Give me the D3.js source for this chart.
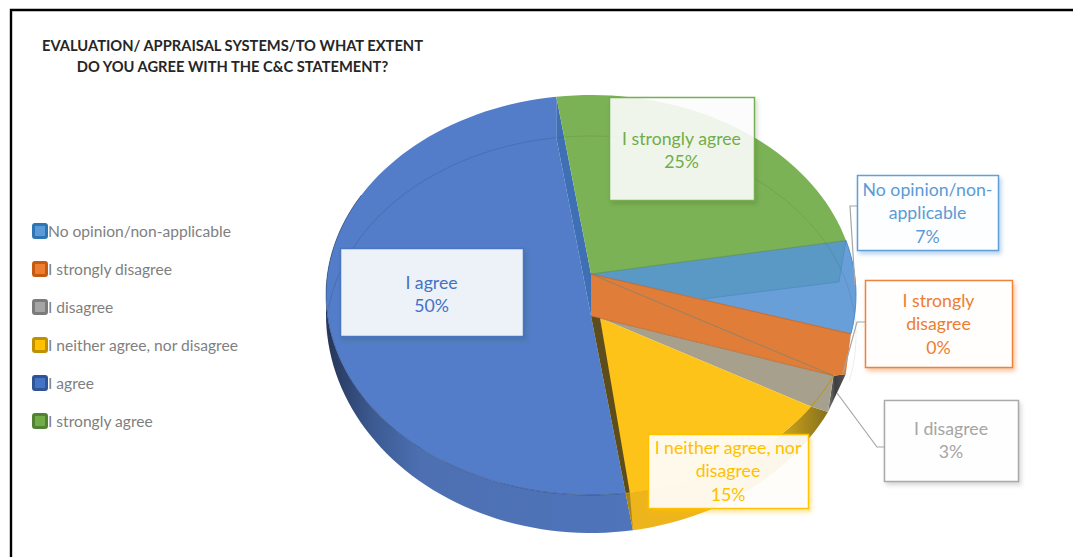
<!DOCTYPE html>
<html><head><meta charset="utf-8">
<script src="https://cdn.jsdelivr.net/npm/d3@7/dist/d3.min.js"></script>
<style>html,body{margin:0;padding:0;background:#fff}svg{display:block}text{font-family:Lato,"Open Sans",sans-serif}</style>
</head><body><svg id="c" width="1073" height="557"></svg>
<script>
// ---- data ----
const titleLines = ["EVALUATION/ APPRAISAL SYSTEMS/TO WHAT EXTENT", "DO YOU AGREE WITH THE C&C STATEMENT?"];
const categories = ["No opinion/non-applicable","I strongly disagree","I disagree","I neither agree, nor disagree","I agree","I strongly agree"];
const percentLabels = [7,0,3,15,50,25];            // the printed labels
const drawnShares = [7.5,3.5,2.8,13.5,50,22.7];    // the angular share each slice has in the drawing
const labelLines = [["No opinion/non-","applicable"],["I strongly","disagree"],["I disagree"],["I neither agree, nor","disagree"],["I agree"],["I strongly agree"]];

// ---- styles and layout ----
const faceColors = ["#689fd8","#e07d38","#a7a08c","#fec318","#537dc8","#7cb256"];
const textColors = ["#5b9bd5","#ed7d31","#a5a5a5","#ffc000","#4472c4","#70ad47"];
const swatchOuter = ["#2e75b6","#c55a11","#7b7b7b","#bf9000","#2f5597","#548235"];
const swatchInner = ["#5b9bd5","#ed7d31","#a5a5a5","#ffc000","#4472c4","#70ad47"];
const boxLayout = [
 {x:857,y:175,w:141,h:75,lines:[190,213,237],fill:.96},
 {x:865,y:280,w:147,h:87,lines:[301,324,348],fill:.96},
 {x:884,y:400,w:134,h:81,lines:[429,452],fill:.96},
 {x:648,y:434,w:160,h:74,lines:[448,471,495],fill:.89},
 {x:340,y:248,w:183,h:88,lines:[283,306],fill:.89},
 {x:609,y:97,w:145,h:103,lines:[139,162],fill:.88}];
const legendY = d3.scalePoint().domain(categories).range([231,421]);

const svg = d3.select("#c");
const defs = svg.append("defs");
function grad(id,stops,x1,x2){
  const g = defs.append("linearGradient").attr("id",id).attr("gradientUnits","userSpaceOnUse")
    .attr("x1",x1).attr("x2",x2).attr("y1",0).attr("y2",0);
  stops.forEach(s=>g.append("stop").attr("offset",s[0]).attr("stop-color",s[1]));
}
grad("wallBlue",[[0,"#27385c"],[.14,"#3c5a92"],[.3,"#4d70b2"],[1,"#4f74ba"]],330,634);
grad("wallGold",[[0,"#eeb41b"],[.5,"#edb51b"],[.8,"#c69c1a"],[1,"#84701c"]],634,828);
grad("wallGray",[[0,"#7a7a7a"],[.5,"#3f3f3f"],[1,"#4e4e4e"]],828,843);
textColors.forEach((c,i)=>{
  const f = defs.append("filter").attr("id","sh"+i).attr("x","-10%").attr("y","-10%").attr("width","125%").attr("height","125%");
  f.append("feDropShadow").attr("dx",2).attr("dy",3).attr("stdDeviation",2.2).attr("flood-color",i==4||i==5?"#2d4a22":c).attr("flood-opacity",i==4||i==5?.22:.45);
});

// frame
svg.append("path").attr("d",d3.line()([[1073,10],[11,10],[11,557]])).attr("fill","none").attr("stroke","#000").attr("stroke-width",2.4);

// ---- projection of the tilted pie ----
const xS = d3.scaleLinear().domain([-1,1]).range([326,856]);
const yTop = d3.scaleLinear().domain([-1,1]).range([95,495]);
const yWall = d3.scaleLinear().domain([-1,1]).range([95,533]);
const yRing = d3.scaleLinear().domain([-1,1]).range([136,536]);
const rad = d=>d*Math.PI/180, deg = r=>r*180/Math.PI;
const P = (yS,a,r=1)=>[xS(r*Math.sin(rad(a))), yS(-r*Math.cos(rad(a)))];
const arcPts = (yS,a,b)=>{const n=Math.max(2,Math.ceil(Math.abs(b-a)/2));return d3.range(n+1).map(i=>P(yS,a+(b-a)*i/n));};
const poly = d3.line();
const close = pts=>poly(pts)+"Z";

const startDeg = 74.2;
const arcs = d3.pie().sort(null).value(d=>d).startAngle(rad(startDeg)).endAngle(rad(startDeg+360))(drawnShares);
const A = arcs.map(d=>({a:deg(d.startAngle),b:deg(d.endAngle)}));
const [noOp,sd,dis,nei,agr,sa] = A;

const apex = P(yTop,0,.105), lowApex = P(yTop,180,.105), yApex = P(yTop,163.5,.12);

// walls
const G = svg.append("g");
const wallBack = agr.a-1.6, wallSd = 106, wallGray = 116.6;
G.append("path").attr("d",close([...arcPts(yTop,agr.a,300),...arcPts(yWall,300,wallBack)])).attr("fill","url(#wallBlue)");
G.append("path").attr("d",close([...arcPts(yTop,nei.a,nei.b),...arcPts(yWall,wallBack,wallGray)])).attr("fill","url(#wallGold)");
G.append("path").attr("d",close([P(yTop,sd.b),P(yWall,wallSd),P(yWall,wallGray)])).attr("fill","url(#wallGray)");

// faces
G.append("path").attr("d",close([...arcPts(yTop,agr.a,agr.b),P(yRing,agr.b),lowApex])).attr("fill",faceColors[4]);
G.append("path").attr("d",close([P(yTop,sa.a),apex,lowApex,P(yRing,sa.a)])).attr("fill","#3f6fb4");
G.append("path").attr("d",close([apex,...arcPts(yTop,sa.a,sa.b)])).attr("fill",faceColors[5]);
G.append("path").attr("d",close([apex,...arcPts(yTop,noOp.a,noOp.b)])).attr("fill",faceColors[0]);
G.append("path").attr("d",close([apex,P(yTop,noOp.a),P(yTop,86,.938),P(yTop,92.7,.423)])).attr("fill","#5a98c6");
G.append("path").attr("d",close([apex,P(yTop,sd.a),P(yWall,wallSd),P(yTop,sd.b),lowApex])).attr("fill",faceColors[1]);
G.append("path").attr("d",close([lowApex,P(yTop,sd.b),P(yWall,wallGray),P(yTop,dis.b),yApex])).attr("fill",faceColors[2]);
G.append("path").attr("d",close([yApex,...arcPts(yTop,nei.a,nei.b)])).attr("fill",faceColors[3]);
// inner wall of the yellow slice
G.append("path").attr("d",close([lowApex,yApex,P(yTop,nei.b-.9),P(yTop,nei.b)])).attr("fill","#5d4d1c");
G.append("path").attr("d",close([P(yTop,nei.b),P(yTop,nei.b-.9),P(yWall,wallBack)])).attr("fill","#a68619");

// thin lines
const thin=(pts,c,o,w=1)=>G.append("path").attr("d",poly(pts)).attr("fill","none").attr("stroke",c).attr("stroke-opacity",o).attr("stroke-width",w);
thin(arcPts(yRing,-82,103),"#000",.08);
thin(arcPts(yRing,270,352.2),"#203864",.07);
thin(arcPts(yTop,nei.b,300),"#203864",.45);
thin(arcPts(yTop,nei.a-10,nei.a),"#bf9000",.8);
thin(arcPts(yTop,nei.b-30,nei.b),"#e0a800",.5);
thin([P(yTop,noOp.a),P(yTop,86,.938),P(yTop,92.7,.423)],"#4a88b8",.6);
thin([apex,P(yTop,sd.b)],"#8a8470",.9);
thin([apex,P(yTop,sd.a)],"#b5622a",.8);
thin([lowApex,P(yTop,sd.b)],"#b5622a",.7);
thin([apex,P(yTop,noOp.a)],"#5c9448",.8);
thin(arcPts(yTop,noOp.a,noOp.b),"#3f87c6",.9);

// leader lines
const leaders=[[[857,206],[850,206],[855,285]],[[865,322],[857,322],[843,373]],[[884,447],[877,447],[837,393]]];
svg.append("g").selectAll("path").data(leaders).join("path").attr("d",d=>poly(d))
  .attr("fill","none").attr("stroke","#a6a6a6").attr("stroke-width",1.2);

// label boxes
const lab = svg.append("g").selectAll("g").data(boxLayout).join("g");
lab.append("rect").attr("x",d=>d.x+.5).attr("y",d=>d.y+.5).attr("width",d=>d.w).attr("height",d=>d.h)
  .attr("fill","#fff").attr("fill-opacity",d=>d.fill)
  .attr("stroke",(d,i)=>textColors[i]).attr("stroke-width",1.5).attr("stroke-opacity",.95)
  .attr("filter",(d,i)=>`url(#sh${i})`);
lab.each(function(d,i){
  const g=d3.select(this), lines=[...labelLines[i],percentLabels[i]+"%"];
  g.selectAll("text").data(lines).join("text")
    .attr("x",d.x+d.w/2).attr("y",(t,j)=>d.lines[j]).attr("dy",".36em")
    .attr("text-anchor","middle").attr("fill",textColors[i]).attr("font-size",17.7).text(t=>t);
});

// legend
const leg = svg.append("g").selectAll("g").data(categories).join("g").attr("transform",d=>`translate(0,${legendY(d)})`);
leg.append("rect").attr("x",33.5).attr("y",-6.5).attr("width",13).attr("height",13).attr("rx",1.5)
  .attr("fill",(d,i)=>swatchInner[i]).attr("stroke",(d,i)=>swatchOuter[i]).attr("stroke-width",3);
leg.append("text").attr("x",48).attr("dy",".36em").attr("fill","#7f7f7f").attr("font-size",15.6).text(d=>d);

// title
svg.append("g").selectAll("text").data(titleLines).join("text")
  .attr("x",232.5).attr("y",(d,i)=>46+i*21).attr("dy",".36em").attr("text-anchor","middle")
  .attr("fill","#262626").attr("font-size",14.7).attr("font-weight",700).text(d=>d);
</script></body></html>
